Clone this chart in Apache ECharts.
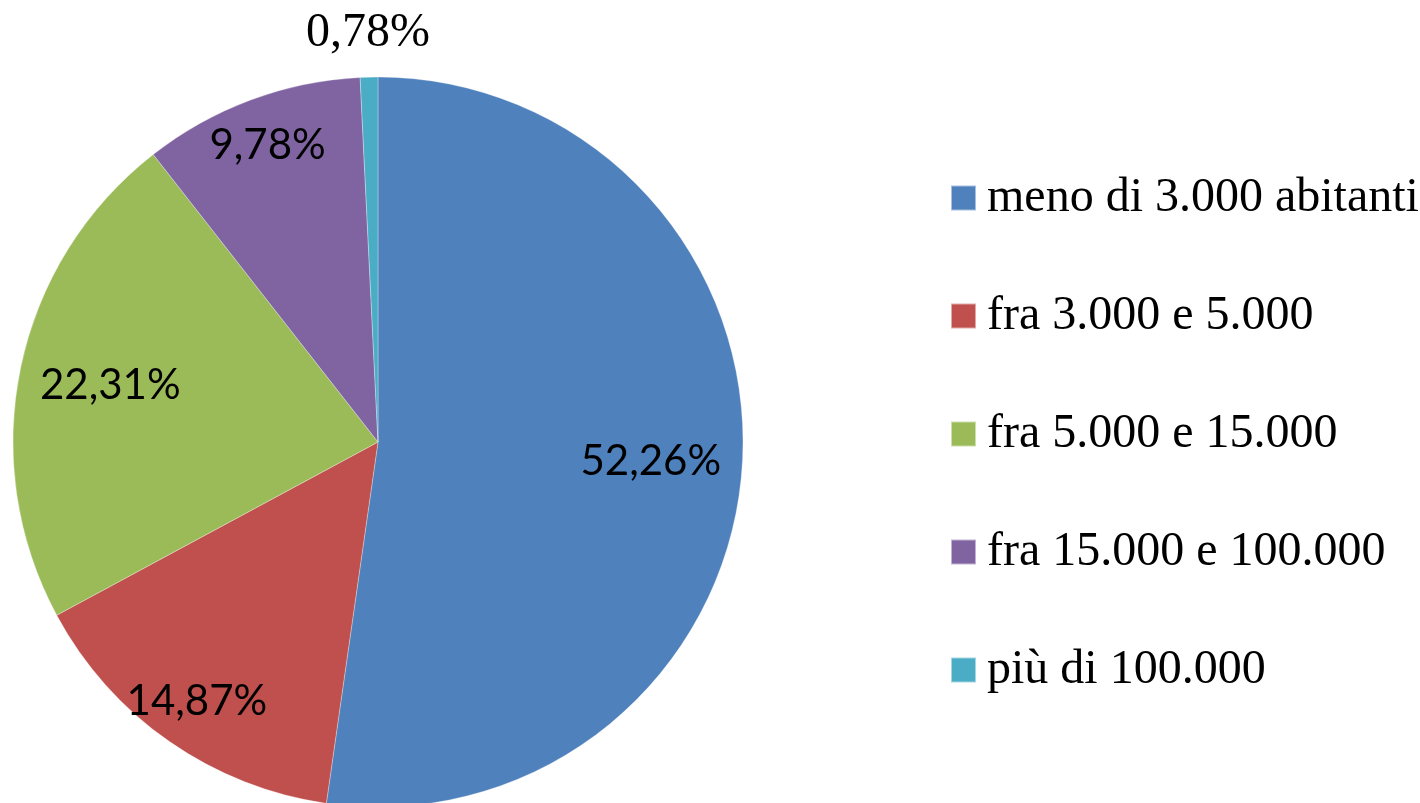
<!DOCTYPE html>
<html lang="it">
<head>
    <meta charset="utf-8" />
    <title>Comuni per classe di abitanti</title>
    <script src="https://cdn.jsdelivr.net/npm/echarts@6/dist/echarts.min.js"></script>
    <style>
        html, body { margin: 0; padding: 0; background: #fff; }
        #chart { width: 1420px; height: 803px; }
    </style>
</head>
<body>
    <div id="chart"></div>
    <script>
        // dati
        var categories = ['meno di 3.000 abitanti', 'fra 3.000 e 5.000', 'fra 5.000 e 15.000', 'fra 15.000 e 100.000', 'più di 100.000'];
        var values = [52.26, 14.87, 22.31, 9.78, 0.78];
        var colors = ['#4f81bd', '#c0504d', '#9bbb59', '#8064a2', '#4bacc6'];

        var center = [378, 442];
        var R = 365;

        function fmt(v) {
            return v.toFixed(2).replace('.', ',') + '%';
        }

        // serie trasparente usata solo per piazzare le etichette a una certa distanza
        function labelSeries(radius, which, font) {
            return {
                type: 'pie',
                center: center,
                radius: radius,
                startAngle: 90,
                clockwise: true,
                silent: true,
                animation: false,
                legendHoverLink: false,
                itemStyle: { color: 'rgba(0,0,0,0)', borderWidth: 0 },
                labelLine: { show: false },
                emphasis: { disabled: true },
                data: categories.map(function (c, i) {
                    return {
                        name: c,
                        value: values[i],
                        label: {
                            show: which.indexOf(i) >= 0,
                            position: 'inside',
                            formatter: fmt(values[i]),
                            color: '#000',
                            fontFamily: font.family,
                            fontSize: font.size
                        }
                    };
                })
            };
        }

        var sans = { family: 'Lato', size: 42 };
        var serif = { family: 'Liberation Serif', size: 48 };

        var chart = echarts.init(document.getElementById('chart'));
        chart.setOption({
            animation: false,
            color: colors,
            legend: {
                orient: 'vertical',
                left: 950,
                top: 173,
                padding: 0,
                itemWidth: 25,
                itemHeight: 25,
                itemGap: 68,
                icon: 'rect',
                selectedMode: false,
                data: categories,
                textStyle: {
                    fontFamily: 'Liberation Serif',
                    fontSize: 48,
                    lineHeight: 50,
                    color: '#000',
                    padding: [0, 0, 0, 6]
                }
            },
            series: [
                {
                    type: 'pie',
                    center: center,
                    radius: R,
                    startAngle: 90,
                    clockwise: true,
                    animation: false,
                    label: { show: false },
                    labelLine: { show: false },
                    itemStyle: { borderColor: 'rgba(255,255,255,0.5)', borderWidth: 0.6 },
                    data: categories.map(function (c, i) {
                        return { name: c, value: values[i] };
                    })
                },
                labelSeries([176, R], [0, 2], sans),
                labelSeries([262, R], [1, 3], sans),
                labelSeries([382, 430], [4], serif)
            ]
        });
    </script>
</body>
</html>
